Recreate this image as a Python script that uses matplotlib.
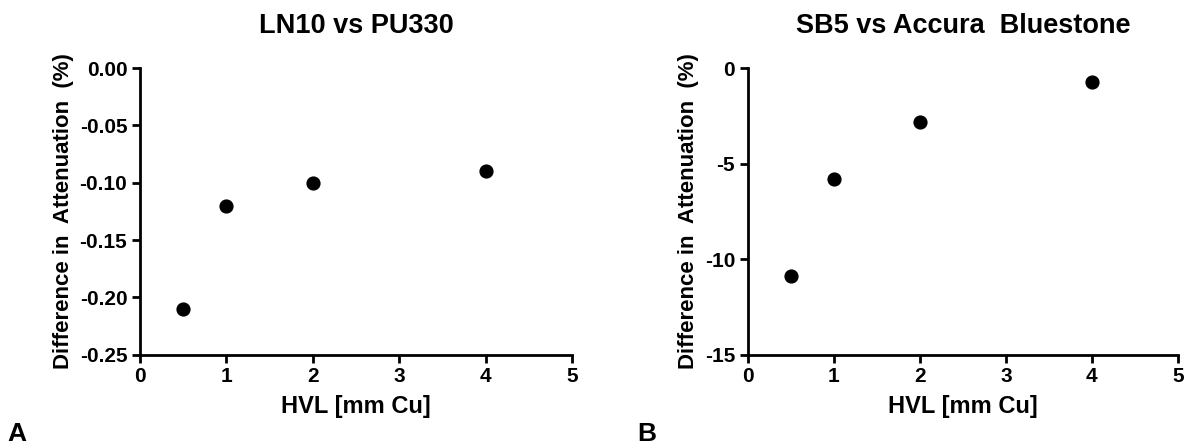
import numpy as np
import matplotlib
matplotlib.use("Agg")
import matplotlib.pyplot as plt

plt.rcParams['font.family'] = ['Liberation Sans', 'DejaVu Sans']
plt.rcParams['font.weight'] = 'bold'

# Data
hvl = [0.5, 1, 2, 4]
diff_a = [-0.21, -0.12, -0.10, -0.09]
diff_b = [-10.9, -5.8, -2.8, -0.75]

titles = ["LN10 vs PU330", "SB5 vs Accura  Bluestone"]
ylims = [(-0.25, 0.0), (-15, 0)]
yticks_a = [0.0, -0.05, -0.10, -0.15, -0.20, -0.25]
yticks_b = [0, -5, -10, -15]
xticks = [0, 1, 2, 3, 4, 5]

fig = plt.figure(figsize=(11.85, 4.48), dpi=100)
ax_a = fig.add_axes([0.118, 0.208, 0.365, 0.640])
ax_b = fig.add_axes([0.631, 0.208, 0.363, 0.640])

def style(ax, y, title, ylim, yticks, fmt):
    ax.scatter(hvl, y, s=85, color="black", zorder=3, clip_on=False)
    ax.set_xlim(0, 5)
    ax.set_ylim(*ylim)
    ax.set_xticks(xticks)
    ax.set_yticks(yticks)
    ax.set_yticklabels([fmt.format(v) for v in yticks])
    for s in ["top", "right"]:
        ax.spines[s].set_visible(False)
    for s in ["left", "bottom"]:
        ax.spines[s].set_linewidth(2)
    ax.tick_params(width=2, length=6, labelsize=15, direction="out", pad=3)
    for lbl in ax.get_xticklabels() + ax.get_yticklabels():
        lbl.set_fontweight("bold")
    ax.set_title(title, fontsize=19.5, fontweight="bold", pad=25)
    ax.set_xlabel("HVL [mm Cu]", fontsize=17, fontweight="bold", labelpad=6)
    ax.set_ylabel("Difference in  Attenuation  (%)", fontsize=16, fontweight="bold", labelpad=4)

style(ax_a, diff_a, titles[0], ylims[0], yticks_a, "{:.2f}")
style(ax_b, diff_b, titles[1], ylims[1], yticks_b, "{:.0f}")

fig.text(0.006, 0.015, "A", fontsize=19, fontweight="bold")
fig.text(0.538, 0.015, "B", fontsize=19, fontweight="bold")

fig.savefig("out.png", dpi=100)
